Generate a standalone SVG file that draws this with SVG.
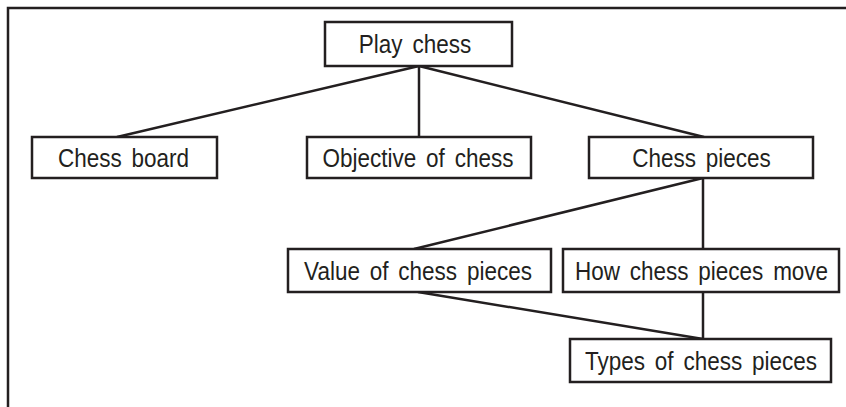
<svg xmlns="http://www.w3.org/2000/svg" width="846" height="407" viewBox="0 0 846 407">
<style>
.box{fill:#fff;stroke:#231f20;stroke-width:2.5}
.lbl{font-family:"Liberation Sans",Arial,sans-serif;font-size:25px;word-spacing:4px;fill:#231f20;text-anchor:middle}
.edge{stroke:#231f20;stroke-width:2.5;fill:none}
</style>
<rect width="846" height="407" fill="#fff"/>
<path d="M8 410 V8 H850" fill="none" stroke="#231f20" stroke-width="2.5"/>
<g id="connectors">
<line class="edge" x1="419" y1="66" x2="117" y2="137"/>
<line class="edge" x1="419" y1="66" x2="419" y2="137"/>
<line class="edge" x1="419" y1="66" x2="704" y2="137"/>
<line class="edge" x1="703" y1="178" x2="414" y2="249"/>
<line class="edge" x1="703" y1="178" x2="703" y2="249"/>
<line class="edge" x1="418" y1="292" x2="703" y2="339"/>
<line class="edge" x1="703" y1="292" x2="703" y2="339"/>
</g>
<g id="play-chess"><rect class="box" x="325" y="22" width="187" height="44"/><text class="lbl" transform="translate(415,53) scale(0.9,1)">Play chess</text></g>
<g id="chess-board"><rect class="box" x="32" y="137" width="185" height="41"/><text class="lbl" transform="translate(123.5,166.5) scale(0.9,1)">Chess board</text></g>
<g id="objective"><rect class="box" x="307" y="137" width="224" height="41"/><text class="lbl" transform="translate(418,166.5) scale(0.9,1)">Objective of chess</text></g>
<g id="chess-pieces"><rect class="box" x="589" y="137" width="224" height="41"/><text class="lbl" transform="translate(701.5,166.5) scale(0.9,1)">Chess pieces</text></g>
<g id="value"><rect class="box" x="288" y="249" width="263" height="43"/><text class="lbl" transform="translate(418,279.5) scale(0.9,1)">Value of chess pieces</text></g>
<g id="how-move"><rect class="box" x="563" y="249" width="276" height="43"/><text class="lbl" transform="translate(701.5,279.5) scale(0.9,1)">How chess pieces move</text></g>
<g id="types"><rect class="box" x="570" y="339" width="261" height="43"/><text class="lbl" transform="translate(701,369.5) scale(0.9,1)">Types of chess pieces</text></g>
</svg>
